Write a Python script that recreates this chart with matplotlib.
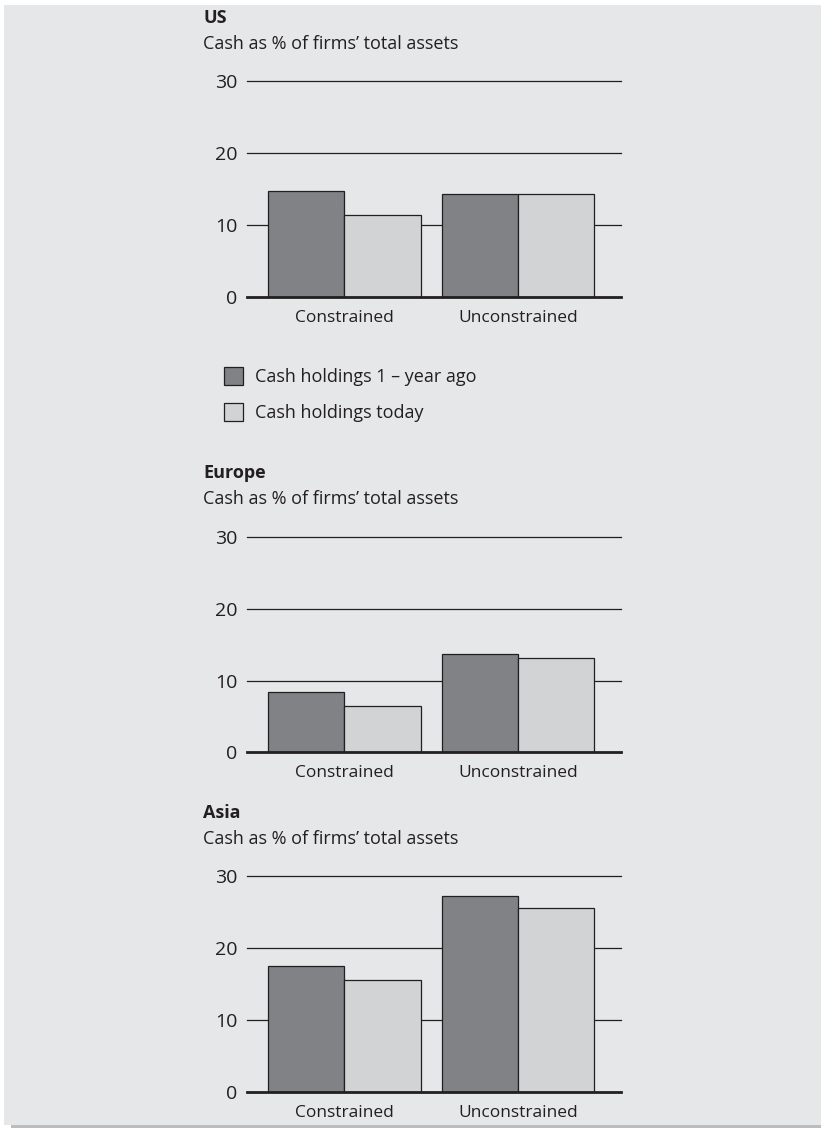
import matplotlib
matplotlib.use("Agg")
import matplotlib.pyplot as plt
import matplotlib.transforms as mtransforms
from matplotlib.patches import Rectangle, Patch
import numpy as np

plt.rcParams['font.family'] = ['Open Sans', 'DejaVu Sans']

# ---- data ----
regions = ["US", "Europe", "Asia"]
subtitle = "Cash as % of firms\u2019 total assets"
categories = ["Constrained", "Unconstrained"]
series_names = ["Cash holdings 1 \u2013 year ago", "Cash holdings today"]
us_year_ago = [14.8, 14.3]
us_today = [11.4, 14.3]
europe_year_ago = [8.4, 13.7]
europe_today = [6.4, 13.1]
asia_year_ago = [17.5, 27.2]
asia_today = [15.6, 25.5]
yticks = [0, 10, 20, 30]

data = {
    "US": (us_year_ago, us_today),
    "Europe": (europe_year_ago, europe_today),
    "Asia": (asia_year_ago, asia_today),
}

W, H = 821, 1128
BG = "#e6e7e8"
DARK = "#808285"
LIGHT = "#d1d3d4"
INK = "#231f20"
FS = 13

fig = plt.figure(figsize=(W / 100, H / 100), dpi=100, facecolor="white")
# background panel
fig.patches.append(Rectangle((4 / W, 1 - 1125 / H), 1 - 4 / W, (1125 - 5) / H,
                             transform=fig.transFigure, facecolor=BG, edgecolor="none", zorder=-2))
fig.patches.append(Rectangle((11 / W, 0), 1 - 11 / W, 3 / H,
                             transform=fig.transFigure, facecolor="#bcbdc0", edgecolor="none", zorder=-2))

# axes geometry in pixels (top of 30 line, bottom = 0 line)
ax_left, ax_right = 247.3, 621.0
panels = {"US": (81.3, 297.3), "Europe": (537.3, 752.3), "Asia": (876.0, 1091.7)}
title_base = {"US": 23, "Europe": 478, "Asia": 818}

x = np.arange(len(categories))
bw = 0.44
xlim = (-0.558, 1.593)
ylab_shift = mtransforms.ScaledTranslation(0, -3 / 100, fig.dpi_scale_trans)

for reg in regions:
    top, bot = panels[reg]
    ax = fig.add_axes([ax_left / W, 1 - bot / H, (ax_right - ax_left) / W, (bot - top) / H])
    ax.set_facecolor("none")
    ya, td = data[reg]
    ax.bar(x - bw / 2, ya, width=bw, color=DARK, edgecolor=INK, linewidth=0.9, zorder=3)
    ax.bar(x + bw / 2, td, width=bw, color=LIGHT, edgecolor=INK, linewidth=0.9, zorder=3)
    for t in yticks[1:]:
        ax.axhline(t, color=INK, lw=0.9, zorder=1, clip_on=False)
    ax.axhline(0, color=INK, lw=2.0, zorder=5, clip_on=False)
    ax.set_xlim(*xlim)
    ax.set_ylim(0, 30)
    ax.set_yticks(yticks)
    ax.set_yticklabels([str(t) for t in yticks], fontsize=14, color=INK)
    for lab in ax.get_yticklabels():
        lab.set_transform(lab.get_transform() + ylab_shift)
    ax.set_xticks(x)
    ax.set_xticklabels(categories, fontsize=12.5, color=INK)
    ax.tick_params(axis="both", length=0)
    ax.tick_params(axis="y", pad=7)
    ax.tick_params(axis="x", pad=9.5)
    for s in ax.spines.values():
        s.set_visible(False)
    fig.text(203 / W, 1 - title_base[reg] / H, reg, fontsize=FS, fontweight="bold",
             color=INK, va="baseline", ha="left")
    fig.text(203 / W, 1 - (title_base[reg] + 26) / H, subtitle, fontsize=FS,
             color=INK, va="baseline", ha="left")

handles = [Patch(facecolor=DARK, edgecolor=INK, linewidth=0.9),
           Patch(facecolor=LIGHT, edgecolor=INK, linewidth=0.9)]
fig.legend(handles, series_names, loc="upper left",
           bbox_to_anchor=(215 / W, 1 - 358 / H), bbox_transform=fig.transFigure,
           frameon=False, fontsize=FS, handlelength=1.05, handleheight=1.15,
           handletextpad=0.65, labelspacing=0.95, borderpad=0, labelcolor=INK)

fig.savefig("out.png", dpi=100, facecolor="white")
